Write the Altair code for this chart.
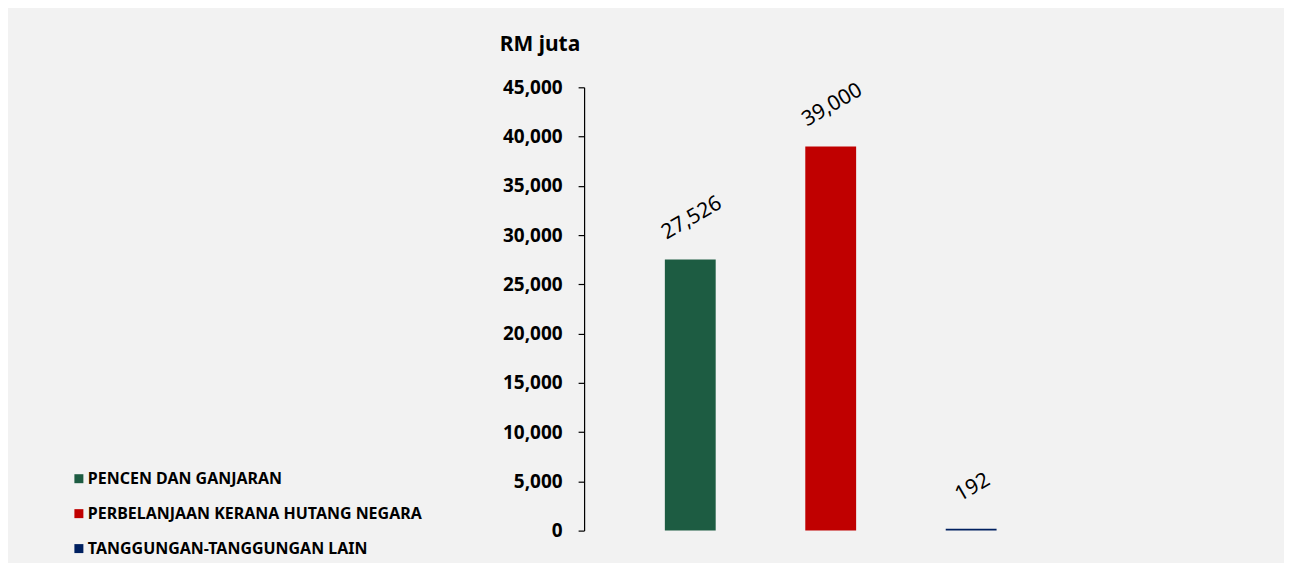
import altair as alt
import pandas as pd

categories = ["PENCEN DAN GANJARAN", "PERBELANJAAN KERANA HUTANG NEGARA", "TANGGUNGAN-TANGGUNGAN LAIN"]
values = [27526, 39000, 192]
colors = ["#1D5C42", "#C00000", "#002060"]
y_ticks = [0, 5000, 10000, 15000, 20000, 25000, 30000, 35000, 40000, 45000]

df = pd.DataFrame({"kategori": categories, "nilai": values})

FONT = "Noto Sans"

x_enc = alt.X("kategori:N", sort=categories, axis=None,
              scale=alt.Scale(paddingInner=0.638, paddingOuter=0.575))
y_enc = alt.Y("nilai:Q",
              scale=alt.Scale(domain=[0, 45000], nice=False),
              axis=alt.Axis(values=y_ticks, format=",.0f", grid=False,
                            domainColor="black", domainWidth=1.2,
                            tickColor="black", tickSize=6, tickWidth=1.2,
                            labelFont=FONT, labelFontSize=19, labelFontWeight="bold",
                            labelColor="black", labelPadding=16,
                            title="RM juta", titleFont=FONT, titleFontSize=21,
                            titleFontWeight="bold", titleColor="black",
                            titleAngle=0, titleAlign="left", titleBaseline="alphabetic",
                            titleX=-85, titleY=-37))

bars = alt.Chart(df).mark_bar().encode(
    x=x_enc,
    y=y_enc,
    color=alt.Color("kategori:N", sort=categories,
                    scale=alt.Scale(domain=categories, range=colors),
                    legend=alt.Legend(title=None, orient="none", legendX=-514, legendY=384,
                                      symbolType="square", symbolSize=81,
                                      symbolStrokeWidth=0, labelFont=FONT,
                                      labelFontSize=16, labelFontWeight="bold",
                                      labelColor="black", rowPadding=19,
                                      labelOffset=1, padding=0, labelLimit=600)),
)

labels = alt.Chart(df).mark_text(
    font=FONT, fontSize=21, color="black", angle=330,
    align="center", baseline="middle", dx=22, dy=-35
).encode(
    x=alt.X("kategori:N", sort=categories, axis=None),
    y=alt.Y("nilai:Q"),
    text=alt.Text("nilai:Q", format=",.0f"),
)

chart = alt.layer(bars, labels).properties(
    width=494, height=444,
    autosize=alt.AutoSizeParams(type="none"),
    padding={"left": 577, "top": 79, "right": 207, "bottom": 32},
    background="#F2F2F2",
).configure_view(stroke=None)

chart.save("out.html", embed_options={"renderer": "svg", "actions": False})
